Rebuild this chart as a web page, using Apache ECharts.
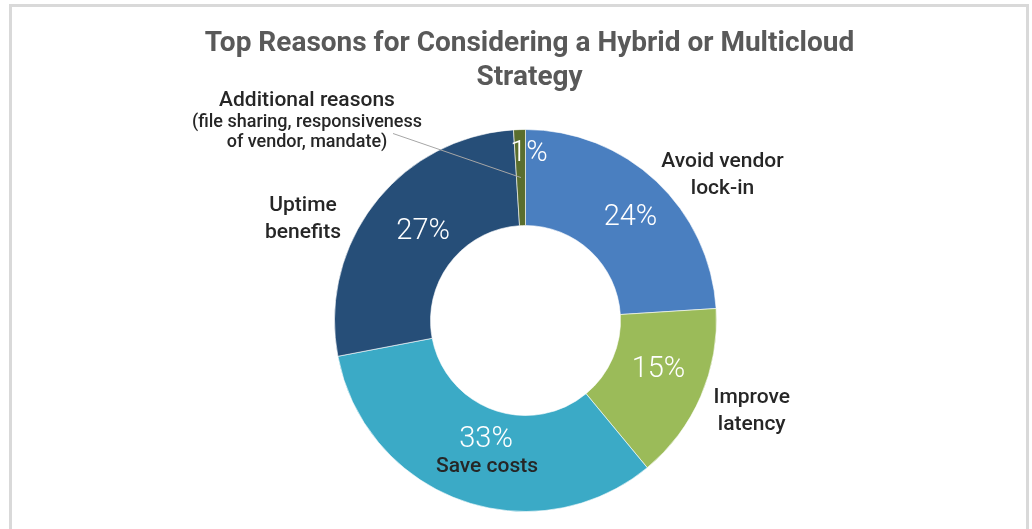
<!DOCTYPE html>
<html>
<head>
<meta charset="utf-8">
<script src="https://cdn.jsdelivr.net/npm/echarts@6/dist/echarts.min.js"></script>
<style>
  html, body { margin: 0; padding: 0; background: #ffffff; }
  #frame { position: absolute; left: 9px; top: 4px; width: 1014px; height: 560px;
           border: 3px solid #d9d9d9; border-bottom: none; box-sizing: content-box; }
  #chart { position: absolute; left: 0; top: 0; width: 1032px; height: 529px; }
</style>
</head>
<body>
<div id="frame"></div>
<div id="chart"></div>
<script>
// ---- data ----
const categories = ['Avoid vendor lock-in', 'Improve latency', 'Save costs', 'Uptime benefits', 'Additional reasons'];
const values = [24, 15, 33, 27, 1];
const outerLabelText = [
  'Avoid vendor\nlock-in',
  'Improve\nlatency',
  'Save costs',
  'Uptime\nbenefits',
  '{h|Additional reasons}\n{s|(file sharing, responsiveness}\n{s|of vendor, mandate)}'
];
const colors = ['#4a7fc0', '#9bbb59', '#3baac6', '#264e78', '#5a6e2e'];

// ---- layout (not data) ----
const CX = 525.5, CY = 320.5, R0 = 95, R1 = 191;
const pctOffsets = [[5, 4], [-1, -9], [10, -18], [13, 1], [8, -21]];
const outerPos = [[722.5, 175.4], [751.7, 411.7], [487, 467], [303, 219.4], [307, 120.5]];

const total = values.reduce((a, b) => a + b, 0);
function midAngle(i) {
  let before = 0;
  for (let k = 0; k < i; k++) before += values[k];
  return (before + values[i] / 2) / total * 2 * Math.PI;
}

const chart = echarts.init(document.getElementById('chart'), null, { renderer: 'canvas' });

const pieData = categories.map((c, i) => ({ name: c, value: values[i], itemStyle: { color: colors[i] } }));
const labelData = categories.map((c, i) => ({
  name: c, value: values[i],
  labelLine: { show: i === 4, lineStyle: { color: '#a6a6a6', width: 1 } }
}));

chart.setOption({
  backgroundColor: 'transparent',
  animation: false,
  title: {
    text: 'Top Reasons for Considering a Hybrid or Multicloud\nStrategy',
    left: 529.5,
    textAlign: 'center',
    top: 27,
    padding: 0,
    textStyle: { fontFamily: 'Roboto', fontSize: 28, fontWeight: 'bold', color: '#595959', lineHeight: 34 }
  },
  series: [
    {
      type: 'pie',
      z: 2,
      center: [CX, CY],
      radius: [R0, R1],
      startAngle: 90,
      clockwise: true,
      silent: true,
      itemStyle: { borderColor: '#ffffff', borderWidth: 0.6 },
      label: {
        show: true, position: 'inside', formatter: '{c}%',
        color: '#ffffff', fontFamily: 'Roboto', fontSize: 29, fontWeight: 300
      },
      labelLine: { show: false },
      labelLayout: function (p) {
        const o = pctOffsets[p.dataIndex];
        return { dx: o[0], dy: o[1] };
      },
      data: pieData
    },
    {
      type: 'pie',
      z: 6,
      center: [CX, CY],
      radius: [R0, R1],
      startAngle: 90,
      clockwise: true,
      silent: true,
      avoidLabelOverlap: false,
      itemStyle: { color: 'rgba(0,0,0,0)' },
      label: {
        show: true, position: 'outside',
        formatter: function (p) { return outerLabelText[p.dataIndex]; },
        color: '#262626', fontFamily: 'Roboto', fontSize: 21, fontWeight: 500, lineHeight: 27,
        align: 'center',
        rich: {
          h: { fontFamily: 'Roboto', fontSize: 21, fontWeight: 500, lineHeight: 24, color: '#262626' },
          s: { fontFamily: 'Roboto', fontSize: 18, lineHeight: 20, color: '#262626' }
        }
      },
      labelLine: { show: false },
      labelLayout: function (p) {
        const i = p.dataIndex;
        const pos = outerPos[i];
        const res = { x: pos[0], y: pos[1], align: 'center', verticalAlign: 'middle' };
        if (i === 4) {
          const a = midAngle(i);
          const rm = (R0 + R1) / 2;
          const anchor = [CX + rm * Math.sin(a), CY - rm * Math.cos(a)];
          const end = [pos[0] + 86, pos[1] + 13];
          res.labelLinePoints = [anchor, end, end];
        }
        return res;
      },
      data: labelData
    }
  ]
});
</script>
</body>
</html>
